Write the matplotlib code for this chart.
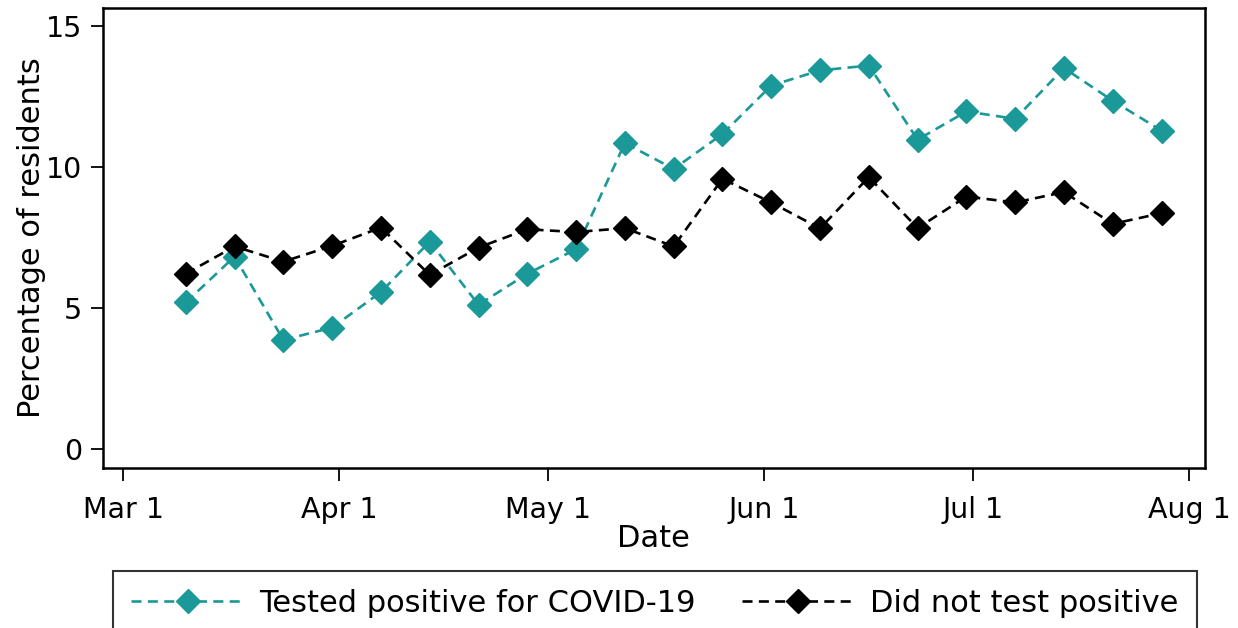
import matplotlib.pyplot as plt
import pandas as pd

# weekly points, Mar 10 to Jul 28
dates = pd.date_range('2021-03-10', periods=21, freq='7D')

tested_positive = [5.20, 6.83, 3.87, 4.31, 5.57, 7.36, 5.12, 6.22, 7.09, 10.86, 9.94,
                   11.18, 12.90, 13.44, 13.61, 10.98, 11.98, 11.72, 13.52, 12.36, 11.30]
not_positive = [6.22, 7.19, 6.65, 7.21, 7.86, 6.18, 7.15, 7.80, 7.70, 7.84, 7.19,
                9.59, 8.75, 7.83, 9.65, 7.84, 8.96, 8.75, 9.12, 7.99, 8.37]

tick_dates = pd.to_datetime(['2021-03-01', '2021-04-01', '2021-05-01',
                             '2021-06-01', '2021-07-01', '2021-08-01'])
tick_labels = ['Mar 1', 'Apr 1', 'May 1', 'Jun 1', 'Jul 1', 'Aug 1']

teal = '#1b9898'
fs_tick = 20.5
fs = 22

fig = plt.figure(figsize=(12.38, 6.28), dpi=100)
ax = fig.add_axes([0.0832, 0.255, 0.890, 0.733])

ax.plot(dates, tested_positive, color=teal, linestyle=(0, (3.8, 2.4)), linewidth=1.9,
        marker='D', markersize=12, label='Tested positive for COVID-19')
ax.plot(dates, not_positive, color='black', linestyle=(0, (3.8, 2.4)), linewidth=1.9,
        marker='D', markersize=12, label='Did not test positive')

ax.set_xlim(pd.Timestamp('2021-02-26 03:00'), pd.Timestamp('2021-08-03 05:00'))
ax.set_ylim(-0.67, 15.67)
ax.set_yticks([0, 5, 10, 15])
ax.set_xticks(tick_dates)
ax.set_xticklabels(tick_labels)

ax.tick_params(axis='both', labelsize=fs_tick, length=9, width=1.3)
ax.tick_params(axis='x', pad=11)
ax.tick_params(axis='y', pad=6)
for s in ax.spines.values():
    s.set_linewidth(1.8)

ax.set_xlabel('Date', fontsize=fs, labelpad=0)
ax.set_ylabel('Percentage of residents', fontsize=fs, labelpad=0)

leg = fig.legend(loc='upper center', bbox_to_anchor=(0.529, 0.091), ncol=2,
                 fontsize=fs, frameon=True, fancybox=False, edgecolor='black',
                 handlelength=3.7, handletextpad=0.5, columnspacing=1.5,
                 numpoints=1, borderpad=0.6, borderaxespad=0)
leg.get_frame().set_linewidth(1.5)

fig.savefig('out.png', dpi=100)
